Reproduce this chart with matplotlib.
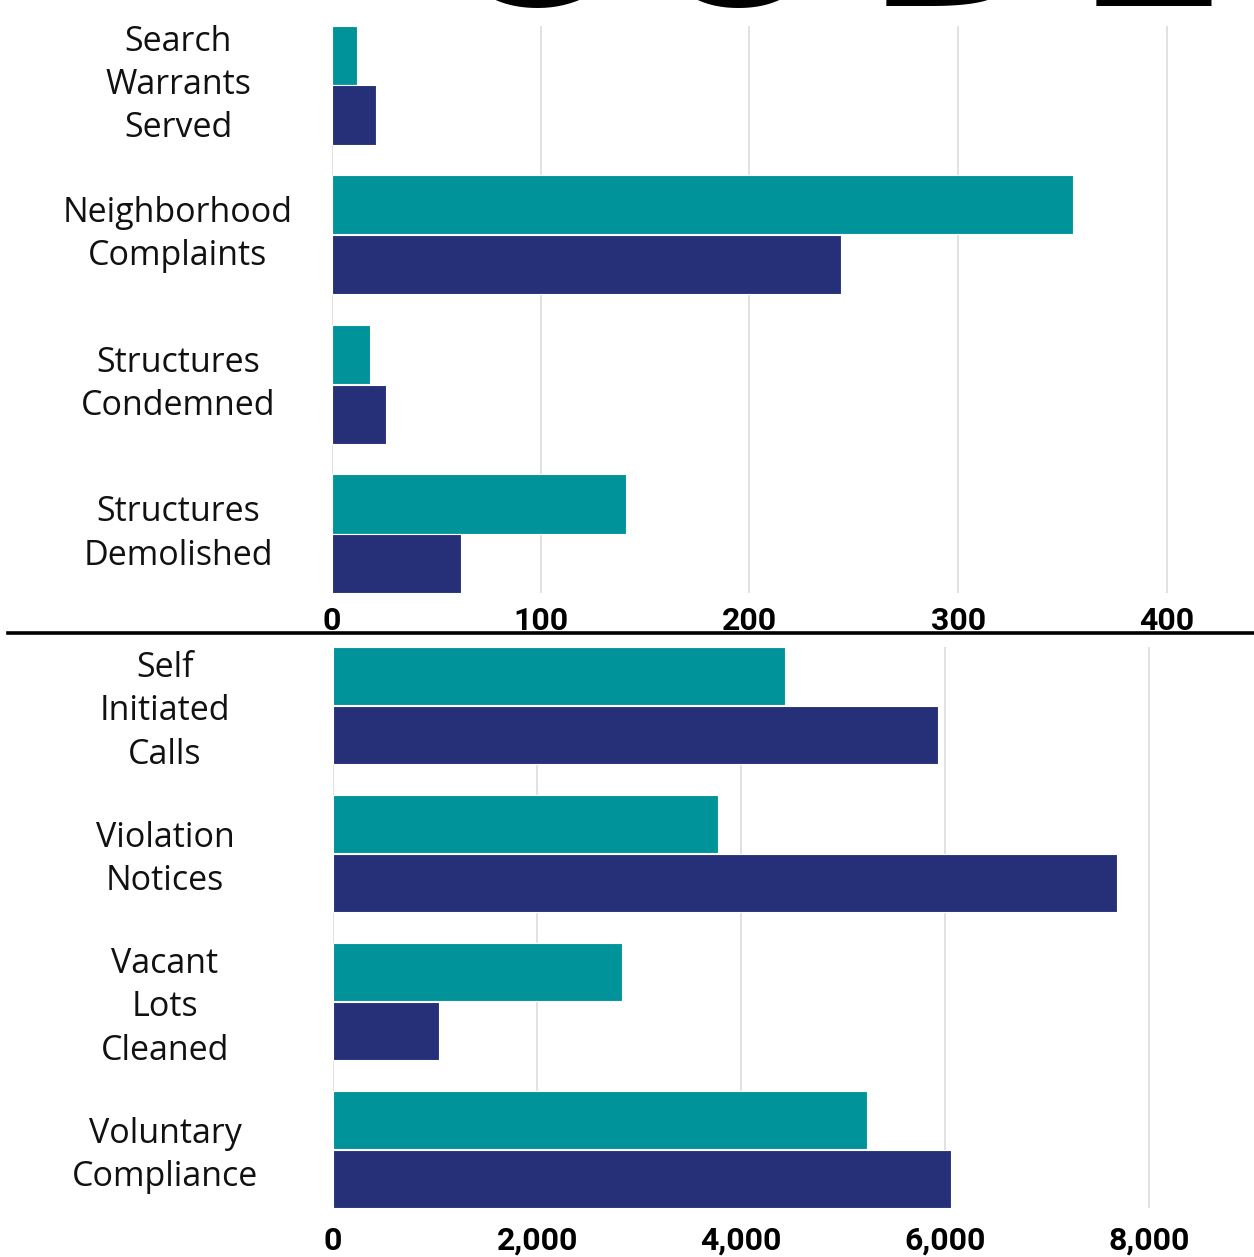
import matplotlib
matplotlib.use("Agg")
import matplotlib.pyplot as plt
import matplotlib.ticker as mticker
import matplotlib.transforms as mtransforms
from matplotlib.lines import Line2D
import numpy as np

# Data (teal = first series, navy = second series)
top_categories = ["Search\nWarrants\nServed", "Neighborhood\nComplaints",
                  "Structures\nCondemned", "Structures\nDemolished"]
top_teal = [12, 355, 18, 141]
top_navy = [21, 244, 26, 62]
top_ticks = [0, 100, 200, 300, 400]

bottom_categories = ["Self\nInitiated\nCalls", "Violation\nNotices",
                     "Vacant\nLots\nCleaned", "Voluntary\nCompliance"]
bottom_teal = [4430, 3775, 2835, 5235]
bottom_navy = [5930, 7685, 1040, 6055]
bottom_ticks = [0, 2000, 4000, 6000, 8000]

TEAL = "#00949A"
NAVY = "#263079"
W, H = 1254, 1257

fig = plt.figure(figsize=(W / 100, H / 100), dpi=100)


def px_axes(left, top, right, bottom):
    # axes box given in pixel coords (top-left origin)
    return fig.add_axes([left / W, 1 - bottom / H, (right - left) / W, (bottom - top) / H])


def draw_panel(ax, cats, teal, navy, ticks, xmax, label_x, label_dy, pad):
    y = np.arange(len(cats))
    h = 0.395
    ax.barh(y - 0.2, teal, height=h, color=TEAL, edgecolor="white", linewidth=0.8, zorder=3)
    ax.barh(y + 0.2, navy, height=h, color=NAVY, edgecolor="white", linewidth=0.8, zorder=3)
    ax.set_ylim(3.395, -0.395)
    ax.set_xlim(0, xmax)
    ax.set_yticks([])
    ax.set_xticks(ticks)
    ax.xaxis.set_major_formatter(mticker.FuncFormatter(lambda v, p: f"{v:,.0f}"))
    ax.tick_params(axis="x", length=0, pad=pad)
    for lab in ax.get_xticklabels():
        lab.set_fontfamily(["Roboto", "DejaVu Sans"])
        lab.set_fontweight("bold")
        lab.set_fontsize(23)
    for s in ax.spines.values():
        s.set_visible(False)
    ax.xaxis.grid(True, color="#DCDCDC", linewidth=1.2, zorder=0)
    ax.set_axisbelow(True)
    trans = mtransforms.blended_transform_factory(fig.transFigure, ax.transData)
    for i, c in enumerate(cats):
        ax.text(label_x / W, i + label_dy, c, transform=trans, ha="center", va="center",
                multialignment="center", fontsize=24.5, family="Open Sans",
                linespacing=1.36, color="#111111")


ax_top = px_axes(332, 26, 1254, 593)
draw_panel(ax_top, top_categories, top_teal, top_navy, top_ticks, 441.7, 178, 0.0, 9)

ax_bot = px_axes(333, 647, 1254, 1208)
draw_panel(ax_bot, bottom_categories, bottom_teal, bottom_navy, bottom_ticks, 9026, 165, 0.04, 13)

# separator line between the two panels
fig.add_artist(Line2D([8 / W, 1], [1 - 633 / H, 1 - 633 / H], transform=fig.transFigure,
                      color="black", linewidth=2.6))

# cut-off title letters at the very top (only their bottoms show)
for letter, cx in zip("CODE", [520, 738, 958, 1151]):
    fig.text(cx / W, 1 - 5.5 / H, letter, ha="center", va="baseline", fontsize=160,
             fontweight="bold", family="DejaVu Sans", color="black")

fig.savefig("out.png", dpi=100)
